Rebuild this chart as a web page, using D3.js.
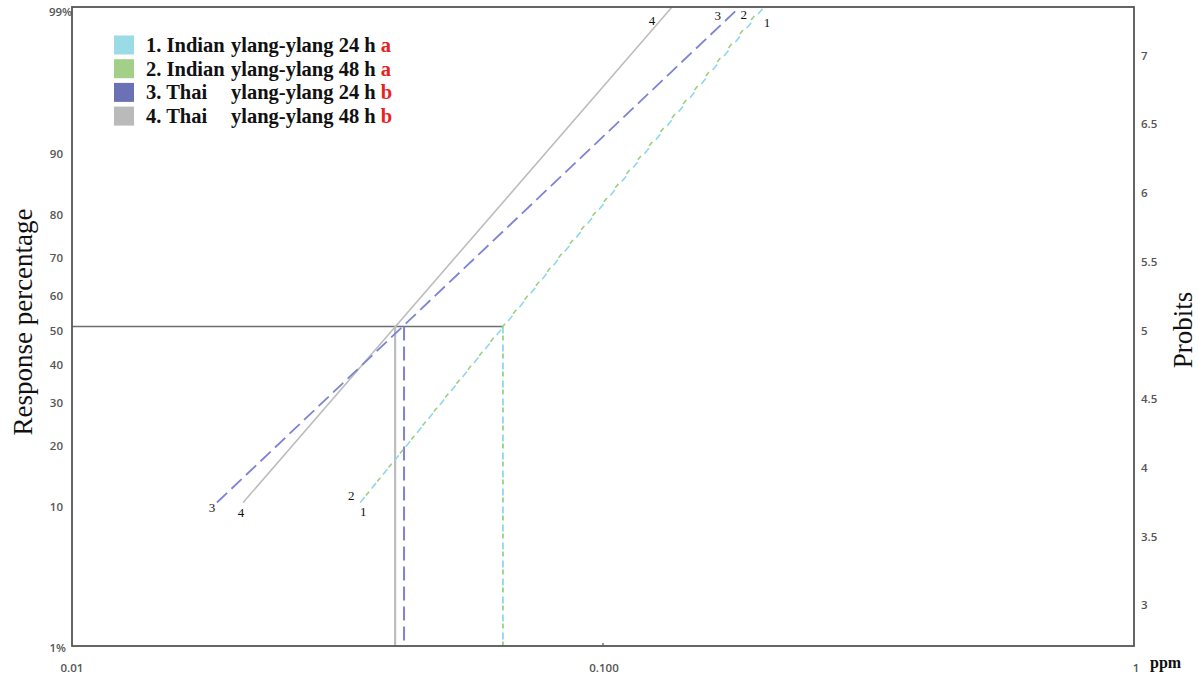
<!DOCTYPE html>
<html>
<head>
<meta charset="utf-8">
<script src="https://cdn.jsdelivr.net/npm/d3@7/dist/d3.min.js"></script>
<style>
  html, body { margin: 0; padding: 0; background: #fff; }
  svg { display: block; }
</style>
</head>
<body>
<svg id="chart" width="1199" height="676"></svg>
<script>
// ---------- data ----------
const seriesIds     = ["1", "2", "3", "4"];
const legendPrefix  = ["1. Indian", "2. Indian", "3. Thai", "4. Thai"];
const legendRest    = ["ylang-ylang 24 h", "ylang-ylang 48 h", "ylang-ylang 24 h", "ylang-ylang 48 h"];
const legendLetters = ["a", "a", "b", "b"];
// concentration (ppm) at the start (10 %) and end (99 %) of each probit line, and LC50
const startConc = [0.0349, 0.0349, 0.01875, 0.0210];
const startResp = [10, 10, 10, 10];
const endConc   = [0.201, 0.199, 0.181, 0.1349];
const endResp   = [99, 99, 99, 99];
const lc50      = [0.0648, 0.0648, 0.0422, 0.0406];
// axis ticks
const leftTicks   = [1, 10, 20, 30, 40, 50, 60, 70, 80, 90, 99];
const leftLabels  = ["1%", "10", "20", "30", "40", "50", "60", "70", "80", "90", "99%"];
const rightTicks  = [3, 3.5, 4, 4.5, 5, 5.5, 6, 6.5, 7];
const bottomTicks = [0.01, 0.1, 1];
const bottomLabels = ["0.01", "0.100", "1"];

// ---------- styles ----------
const colors = ["#8ed8ea", "#9ccf80", "#7e83d4", "#bdbdbd"];
const legendColors = ["#9adbe6", "#a2d089", "#6a72b5", "#bababa"];

const svg = d3.select("#chart");
const L = 72, R = 1134, T = 7, B = 646;

const x = d3.scaleLog().domain([0.01, 1]).range([L, R]);
// probit transform: probit = 5 + inverse normal CDF(p)
function invNorm(p) {
  const a = [-3.969683028665376e+01, 2.209460984245205e+02, -2.759285104469687e+02, 1.383577518672690e+02, -3.066479806614716e+01, 2.506628277459239e+00];
  const b = [-5.447609879822406e+01, 1.615858368580409e+02, -1.556989798598866e+02, 6.680131188771972e+01, -1.328068155288572e+01];
  const c = [-7.784894002430293e-03, -3.223964580411365e-01, -2.400758277161838e+00, -2.549732539343734e+00, 4.374664141464968e+00, 2.938163982698783e+00];
  const d = [7.784695709041462e-03, 3.224671290700398e-01, 2.445134137142996e+00, 3.754408661907416e+00];
  const pl = 0.02425, ph = 1 - pl;
  let q, r;
  if (p < pl) { q = Math.sqrt(-2 * Math.log(p)); return (((((c[0]*q+c[1])*q+c[2])*q+c[3])*q+c[4])*q+c[5]) / ((((d[0]*q+d[1])*q+d[2])*q+d[3])*q+1); }
  if (p <= ph) { q = p - 0.5; r = q*q; return (((((a[0]*r+a[1])*r+a[2])*r+a[3])*r+a[4])*r+a[5])*q / (((((b[0]*r+b[1])*r+b[2])*r+b[3])*r+b[4])*r+1); }
  q = Math.sqrt(-2 * Math.log(1 - p)); return -(((((c[0]*q+c[1])*q+c[2])*q+c[3])*q+c[4])*q+c[5]) / ((((d[0]*q+d[1])*q+d[2])*q+d[3])*q+1);
}
const probit = pct => 5 + invNorm(pct / 100);
const yP = d3.scaleLinear().domain([probit(1), probit(99)]).range([B, T]);
const y = pct => yP(probit(pct));

// ---------- reference lines at 50 % ----------
const g = svg.append("g");
const maxLC = d3.max(lc50);
g.append("line").attr("x1", L).attr("x2", x(maxLC)).attr("y1", y(50)).attr("y2", y(50))
  .attr("stroke", "#6e6e6e").attr("stroke-width", 1.6);

const styles = [
  {dash: "7,11", w: 1.6, off: 0},
  {dash: "5,13", w: 1.6, off: -9},
  {dash: "14,6", w: 1.8, off: 0},
  {dash: null, w: 1.6, off: 0}
];
// vertical LC50 lines
[3, 2, 0, 1].forEach(i => {
  const ln = g.append("line").attr("x1", x(lc50[i])).attr("x2", x(lc50[i]))
    .attr("y1", y(50)).attr("y2", B)
    .attr("stroke", colors[i]).attr("stroke-width", i === 3 ? 2.2 : (i === 2 ? 2 : 1.8));
  if (styles[i].dash) ln.attr("stroke-dasharray", styles[i].dash).attr("stroke-dashoffset", styles[i].off);
});

// ---------- probit lines ----------
[3, 2, 0, 1].forEach(i => {
  const pts = [[startConc[i], startResp[i]], [endConc[i], endResp[i]]];
  const path = g.append("path")
    .attr("d", d3.line().x(d => x(d[0])).y(d => y(d[1]))(pts))
    .attr("fill", "none").attr("stroke", colors[i]).attr("stroke-width", styles[i].w);
  if (styles[i].dash) path.attr("stroke-dasharray", styles[i].dash).attr("stroke-dashoffset", styles[i].off);
});

// endpoint number labels
const startOff = [[3, 13], [-9, -3], [-5, 9], [-2, 14]];
const endOff   = [[3, 20], [-18, 12], [-22, 13], [-20, 18]];
const serif = "'Liberation Serif', 'Times New Roman', serif";
seriesIds.forEach((id, i) => {
  g.append("text").attr("x", x(startConc[i]) + startOff[i][0]).attr("y", y(startResp[i]) + startOff[i][1])
    .attr("text-anchor", "middle").attr("font-family", serif).attr("font-size", 13).attr("fill", "#111").text(id);
  g.append("text").attr("x", x(endConc[i]) + endOff[i][0]).attr("y", y(endResp[i]) + endOff[i][1])
    .attr("text-anchor", "middle").attr("font-family", serif).attr("font-size", 13).attr("fill", "#111").text(id);
});

// ---------- frame ----------
svg.append("rect").attr("x", L).attr("y", T).attr("width", R - L).attr("height", B - T)
  .attr("fill", "none").attr("stroke", "#555").attr("stroke-width", 1.8);

// bottom small tick at 0.1
svg.append("line").attr("x1", x(0.1)).attr("x2", x(0.1)).attr("y1", B).attr("y2", B - 3)
  .attr("stroke", "#555").attr("stroke-width", 1.2);

// ---------- tick labels ----------
const tickFont = "'Open Sans', 'DejaVu Sans', sans-serif";
leftTicks.forEach((t, i) => {
  const last = i === leftTicks.length - 1;
  svg.append("text").attr("x", last ? 72 : (i === 0 ? 66 : 63)).attr("y", y(t) + (last ? 9 : (i === 0 ? 6 : 8)))
    .attr("text-anchor", "end").attr("font-family", tickFont).attr("font-size", 11.5)
    .attr("font-weight", 600).attr("fill", "#555").text(leftLabels[i]);
});
rightTicks.forEach(t => {
  svg.append("text").attr("x", 1141).attr("y", yP(t) + 8)
    .attr("text-anchor", "start").attr("font-family", tickFont).attr("font-size", 11.5)
    .attr("font-weight", 600).attr("fill", "#555").text(String(t));
});
bottomTicks.forEach((t, i) => {
  svg.append("text").attr("x", x(t) + (i === 0 ? 0 : (i === 2 ? 2 : 1))).attr("y", 672)
    .attr("text-anchor", "middle").attr("font-family", tickFont).attr("font-size", 11.5)
    .attr("font-weight", 600).attr("fill", "#555").text(bottomLabels[i]);
});

// ---------- axis titles ----------
svg.append("text").attr("transform", "translate(32,322) rotate(-90)")
  .attr("text-anchor", "middle").attr("font-family", serif).attr("font-size", 27)
  .attr("fill", "#111").text("Response percentage");
svg.append("text").attr("transform", "translate(1192,330) rotate(-90)")
  .attr("text-anchor", "middle").attr("font-family", serif).attr("font-size", 27)
  .attr("fill", "#111").text("Probits");
svg.append("text").attr("x", 1150).attr("y", 668)
  .attr("font-family", serif).attr("font-size", 16).attr("font-weight", "bold")
  .attr("fill", "#111").text("ppm");

// ---------- legend ----------
const lg = svg.append("g");
seriesIds.forEach((id, i) => {
  const cy = 45 + i * 23.7;
  lg.append("rect").attr("x", 114).attr("y", cy - 9.5).attr("width", 20).attr("height", 19)
    .attr("fill", legendColors[i]);
  lg.append("text").attr("x", 146).attr("y", cy + 7).attr("font-family", serif)
    .attr("font-size", 20.5).attr("font-weight", "bold").attr("fill", "#111").text(legendPrefix[i]);
  const t = lg.append("text").attr("x", 231).attr("y", cy + 7).attr("font-family", serif)
    .attr("font-size", 20.5).attr("font-weight", "bold").attr("fill", "#111");
  t.append("tspan").text(legendRest[i] + " ");
  t.append("tspan").attr("fill", "#e8231f").text(legendLetters[i]);
});
</script>
</body>
</html>
